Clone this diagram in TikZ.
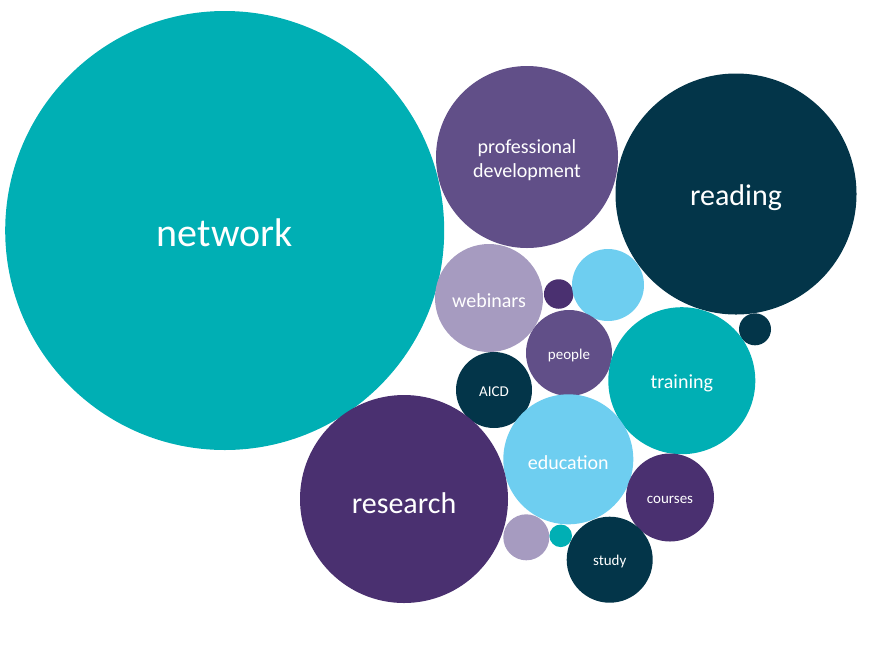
\documentclass[tikz,border=0pt]{standalone}
\usepackage{fontspec}
\setmainfont{Carlito}
\definecolor{cteal}{HTML}{00AFB4}
\definecolor{cpurple}{HTML}{614F88}
\definecolor{cnavy}{HTML}{033549}
\definecolor{clav}{HTML}{A69BC0}
\definecolor{cdpurple}{HTML}{4A3070}
\definecolor{clblue}{HTML}{6ECEF0}
\begin{document}
\begin{tikzpicture}[x=1pt,y=-1pt,
  bub/.style={circle,inner sep=0pt,draw=none},
  lbl/.style={inner sep=0pt,text=white,align=center},
  fxl/.style={lbl,font=\fontsize{40}{44}\selectfont,yshift=-2pt},
  fl/.style={lbl,font=\fontsize{30}{34}\selectfont,yshift=-4pt},
  fm/.style={lbl,font=\fontsize{20}{24}\selectfont,yshift=-3pt},
  fs/.style={lbl,font=\fontsize{15}{18}\selectfont,yshift=-2pt}]
\useasboundingbox (0,0) rectangle (872,649);
\node[bub,fill=cteal,minimum size=439] (network) at (224.7,230.5) {};
\node[bub,fill=cpurple,minimum size=182] (profdev) at (527,157) {};
\node[bub,fill=cnavy,minimum size=241] (reading) at (736,194) {};
\node[bub,fill=clav,minimum size=108] (webinars) at (489,298) {};
\node[bub,fill=cdpurple,minimum size=29.5] (dot1) at (558.7,294) {};
\node[bub,fill=clblue,minimum size=72] (lb1) at (608,285) {};
\node[bub,fill=cnavy,minimum size=32] (dot2) at (755,329.3) {};
\node[bub,fill=cpurple,minimum size=86] (people) at (569,353) {};
\node[bub,fill=cteal,minimum size=147] (training) at (681.8,380.7) {};
\node[bub,fill=cnavy,minimum size=76] (aicd) at (494,390) {};
\node[bub,fill=clblue,minimum size=130] (education) at (568.3,459.3) {};
\node[bub,fill=cdpurple,minimum size=208] (research) at (404,499) {};
\node[bub,fill=cdpurple,minimum size=88] (courses) at (670,497.5) {};
\node[bub,fill=clav,minimum size=46] (lav1) at (526.3,537.3) {};
\node[bub,fill=cteal,minimum size=22.6] (dot3) at (560.7,535.8) {};
\node[bub,fill=cnavy,minimum size=86] (study) at (609.7,559.7) {};
\node[fxl] (tnetwork) at (network.center) {network};
\node[fm] (tprofdev) at (profdev.center) {professional\\development};
\node[fl] (treading) at (reading.center) {reading};
\node[fm] (twebinars) at (webinars.center) {webinars};
\node[fs] (tpeople) at (people.center) {people};
\node[fm] (ttraining) at (training.center) {training};
\node[fs] (taicd) at (aicd.center) {AICD};
\node[fm] (teducation) at (education.center) {education};
\node[fl] (tresearch) at (research.center) {research};
\node[fs] (tcourses) at (courses.center) {courses};
\node[fs] (tstudy) at (study.center) {study};
\end{tikzpicture}
\end{document}
